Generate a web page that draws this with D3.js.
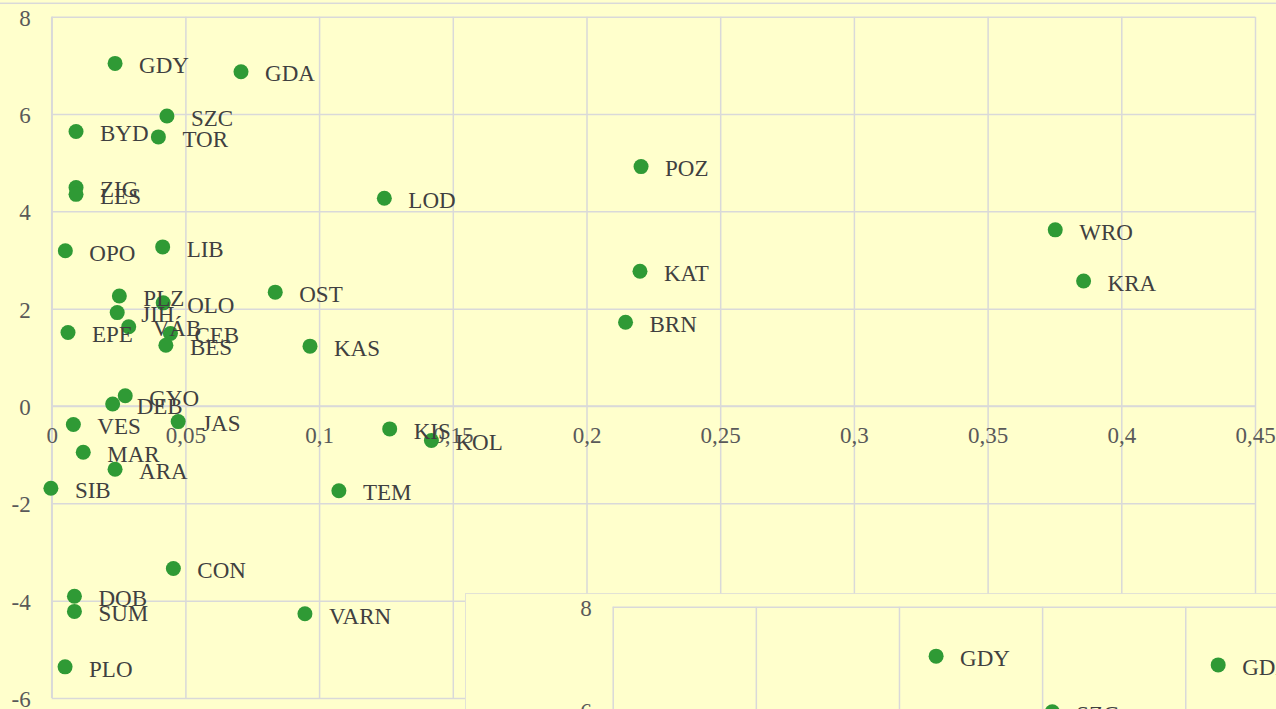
<!DOCTYPE html>
<html>
<head>
<meta charset="utf-8">
<script src="https://cdn.jsdelivr.net/npm/d3@7"></script>
<style>
  html, body { margin: 0; padding: 0; background: #FFFFCC; overflow: hidden; }
  svg { display: block; }
</style>
</head>
<body>
<svg id="chart" width="1276" height="709"></svg>
<script>
// ---- data ----
const names = ["GDY","GDA","SZC","BYD","TOR","ZIG","LES","POZ","LOD","WRO","KRA","OPO","LIB","KAT","OST","PLZ","OLO","JIH","VÁB","EPE","CEB","BES","BRN","KAS","GYO","DEB","VES","JAS","KIS","KOL","MAR","ARA","SIB","TEM","CON","DOB","SUM","VARN","PLO"];
const xValues = [0.0237,0.0708,0.0431,0.0091,0.0399,0.0091,0.0091,0.2204,0.1244,0.3753,0.3859,0.0051,0.0415,0.2200,0.0836,0.0253,0.0417,0.0245,0.0288,0.0061,0.0444,0.0427,0.2146,0.0966,0.0275,0.0228,0.0081,0.0473,0.1264,0.1420,0.0118,0.0237,-0.0003,0.1074,0.0455,0.0085,0.0085,0.0947,0.0050];
const yValues = [7.04,6.87,5.96,5.64,5.53,4.49,4.35,4.92,4.27,3.62,2.57,3.19,3.27,2.77,2.34,2.26,2.12,1.92,1.63,1.51,1.49,1.25,1.72,1.23,0.21,0.04,-0.38,-0.32,-0.47,-0.71,-0.95,-1.30,-1.69,-1.74,-3.34,-3.91,-4.22,-4.27,-5.36];

const xTicks = [0,0.05,0.1,0.15,0.2,0.25,0.3,0.35,0.4,0.45];
const xTickLabels = ["0","0,05","0,1","0,15","0,2","0,25","0,3","0,35","0,4","0,45"];
const yTicks = [-6,-4,-2,0,2,4,6,8];
const yTickLabels = ["-6","-4","-2","0","2","4","6","8"];

// second (overlapping) copy of the chart, zoomed in x
const insetXTicks = [-0.0303,-0.0064,0.0175,0.0414,0.0653,0.0892];

// ---- style ----
const BG = "#FFFFCC", GRID = "#D9D9D9", DOT = "#2F9A35", LABEL = "#404040", TICK = "#595959";
const FS = 23;
const FONT = "'Liberation Serif', 'Times New Roman', Times, serif";

const svg = d3.select("#chart").style("font-family", FONT);
svg.append("rect").attr("x",0).attr("y",0).attr("width",1276).attr("height",709).attr("fill",BG);

// outer frame of main chart (only top edge visible)
svg.append("rect").attr("x",-200).attr("y",3.3).attr("width",1700).attr("height",900)
  .attr("fill",BG).attr("stroke",GRID).attr("stroke-width",1.5);

function drawChart(g, x, y, xt, xtl, isMain) {
  const [l, r] = x.range();
  const [b, t] = y.range();
  // vertical grid
  g.append("g").attr("transform",`translate(0,${b})`)
    .call(d3.axisBottom(x).tickValues(xt).tickSize(-(b - t)).tickFormat(""))
    .call(s => s.select(".domain").remove())
    .call(s => s.selectAll("line").attr("stroke",GRID).attr("stroke-width",1.5));
  // horizontal grid
  g.append("g").attr("transform",`translate(${l},0)`)
    .call(d3.axisLeft(y).tickValues(yTicks).tickSize(-(r - l)).tickFormat(""))
    .call(s => s.select(".domain").remove())
    .call(s => s.selectAll("line").attr("stroke",GRID).attr("stroke-width",1.5));
  if (isMain) {
    // axis lines
    g.append("line").attr("x1",l).attr("x2",r).attr("y1",y(0)).attr("y2",y(0))
      .attr("stroke",GRID).attr("stroke-width",1.5);
    g.append("line").attr("x1",x(0)).attr("x2",x(0)).attr("y1",t).attr("y2",b)
      .attr("stroke",GRID).attr("stroke-width",1.5);
  }
  // y tick labels
  g.append("g").attr("transform",`translate(${l},0)`)
    .call(d3.axisLeft(y).tickValues(yTicks).tickSize(0).tickFormat((d,i) => yTickLabels[i]))
    .call(s => s.select(".domain").remove())
    .call(s => s.attr("font-family", null).attr("font-size", null))
    .call(s => s.selectAll("text").attr("x",-21).attr("dy",null).attr("y",8.5)
      .attr("fill",TICK).style("font-size",FS+"px").style("font-family",FONT));
  // x tick labels
  if (isMain) {
    g.append("g").attr("transform",`translate(0,${y(0)})`)
      .call(d3.axisBottom(x).tickValues(xt).tickSize(0).tickFormat((d,i) => xtl[i]))
      .call(s => s.select(".domain").remove())
      .call(s => s.attr("font-family", null).attr("font-size", null))
      .call(s => s.selectAll("text").attr("y",36.7).attr("dy",null)
        .attr("fill",TICK).style("font-size",FS+"px").style("font-family",FONT));
  }
  // points
  g.append("g").selectAll("circle").data(names).join("circle")
    .attr("cx",(d,i) => x(xValues[i])).attr("cy",(d,i) => y(yValues[i]))
    .attr("r",7.5).attr("fill",DOT);
  // labels
  g.append("g").selectAll("text").data(names).join("text")
    .attr("x",(d,i) => x(xValues[i]) + 24).attr("y",(d,i) => y(yValues[i]) + 9.8)
    .attr("fill",LABEL).style("font-size",FS+"px").style("font-family",FONT).text(d => d);
}

// main chart
const x = d3.scaleLinear().domain([0,0.45]).range([51.7,1255]);
const y = d3.scaleLinear().domain([-6,8]).range([698,16.7]);
drawChart(svg.append("g"), x, y, xTicks, xTickLabels, true);

// overlapping second copy (bottom right)
const frameX = 465, frameY = 593.3;
svg.append("clipPath").attr("id","insetClip").append("rect")
  .attr("x",frameX).attr("y",frameY).attr("width",1276-frameX).attr("height",709-frameY);
const ig = svg.append("g").attr("clip-path","url(#insetClip)");
ig.append("rect").attr("x",frameX).attr("y",frameY).attr("width",1000).attr("height",400)
  .attr("fill",BG).attr("stroke",GRID).attr("stroke-width",1.5);
const ix = d3.scaleLinear().domain([insetXTicks[0], insetXTicks[insetXTicks.length-1]]).range([612.7,1328.4]);
const iy = d3.scaleLinear().domain([-6,8]).range([606.7 + 14*51.5, 606.7]);
drawChart(ig.append("g"), ix, iy, insetXTicks, [], false);
</script>
</body>
</html>
